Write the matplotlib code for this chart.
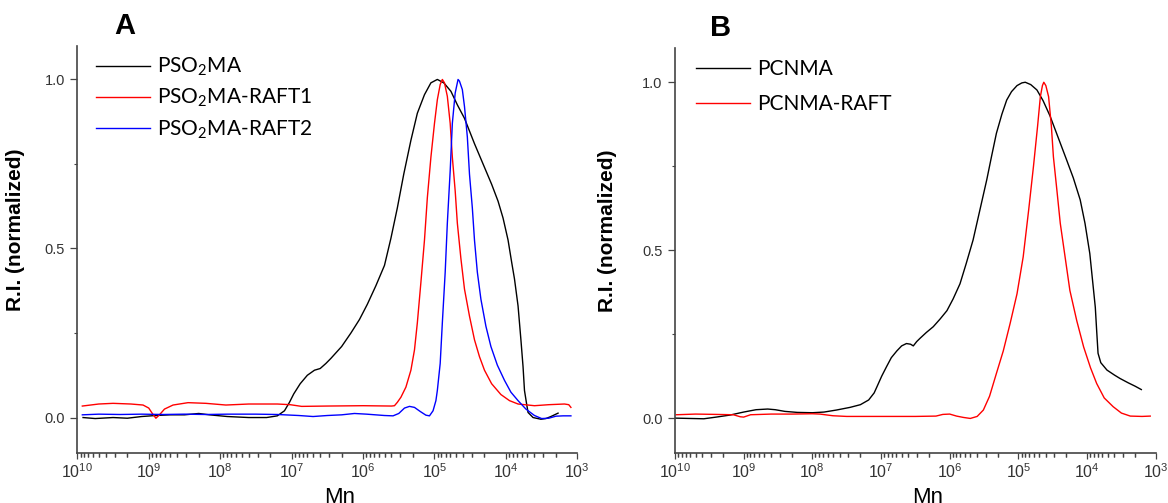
import numpy as np
import matplotlib
matplotlib.use("Agg")
import matplotlib.pyplot as plt
from matplotlib.ticker import FixedLocator, LogLocator, NullFormatter

plt.rcParams['font.family'] = ['Liberation Sans', 'DejaVu Sans']
plt.rcParams['mathtext.fontset'] = 'custom'
plt.rcParams['mathtext.rm'] = 'Lato'
plt.rcParams['mathtext.it'] = 'Lato:italic'

# --- panel A: log10(Mn) and normalized RI ---
a_black_logmn = [9.92, 9.75, 9.5, 9.3, 9.1, 8.9, 8.7, 8.5, 8.3, 8.15, 7.9, 7.6, 7.35, 7.2,
                 7.1, 7.03, 6.97, 6.88, 6.78, 6.68, 6.6, 6.52, 6.45, 6.3, 6.17, 6.05, 5.94,
                 5.82, 5.7, 5.61, 5.52, 5.43, 5.33, 5.24, 5.14, 5.05, 4.96, 4.87, 4.77, 4.68,
                 4.58, 4.44, 4.30, 4.2, 4.11, 4.04, 3.97, 3.92, 3.88, 3.83, 3.79, 3.76, 3.74,
                 3.71, 3.69, 3.62, 3.51, 3.44, 3.37, 3.3, 3.27]
a_black_ri = [0.0, -0.003, 0.0, -0.002, 0.003, 0.006, 0.008, 0.008, 0.012, 0.008, 0.003, 0.0,
              0.0, 0.005, 0.02, 0.045, 0.07, 0.1, 0.125, 0.14, 0.145, 0.16, 0.175, 0.21, 0.25,
              0.29, 0.335, 0.39, 0.45, 0.53, 0.62, 0.72, 0.82, 0.9, 0.955, 0.99, 1.0, 0.99,
              0.965, 0.925, 0.885, 0.81, 0.74, 0.69, 0.64, 0.59, 0.525, 0.46, 0.41, 0.33,
              0.23, 0.15, 0.08, 0.04, 0.015, 0.0, -0.005, -0.003, 0.003, 0.01, 0.013]

a_red_logmn = [9.93, 9.7, 9.5, 9.25, 9.08, 9.0, 8.95, 8.9, 8.85, 8.78, 8.66, 8.45, 8.2, 7.92,
               7.6, 7.2, 7.02, 6.86, 6.5, 6.0, 5.6, 5.56, 5.52, 5.47, 5.4, 5.33, 5.28, 5.24,
               5.19, 5.14, 5.1, 5.05, 5.0, 4.96, 4.92, 4.89, 4.86, 4.82, 4.78, 4.75, 4.71,
               4.68, 4.63, 4.58, 4.51, 4.44, 4.37, 4.3, 4.2, 4.07, 3.95, 3.83, 3.6, 3.4, 3.18,
               3.12, 3.09]
a_red_ri = [0.034, 0.04, 0.042, 0.04, 0.037, 0.028, 0.012, -0.002, 0.008, 0.025, 0.037, 0.044,
            0.042, 0.037, 0.04, 0.04, 0.038, 0.033, 0.034, 0.035, 0.034, 0.035, 0.045, 0.06,
            0.09, 0.14, 0.2, 0.28, 0.4, 0.525, 0.65, 0.77, 0.87, 0.94, 0.985, 1.0, 0.99, 0.95,
            0.87, 0.77, 0.67, 0.575, 0.47, 0.38, 0.3, 0.23, 0.18, 0.14, 0.1, 0.068, 0.05,
            0.04, 0.035, 0.038, 0.04, 0.038, 0.03]

a_blue_logmn = [9.93, 9.7, 9.4, 9.1, 8.8, 8.5, 8.2, 7.9, 7.5, 7.2, 6.9, 6.7, 6.5, 6.3, 6.12,
                5.95, 5.7, 5.58, 5.5, 5.42, 5.35, 5.28, 5.2, 5.12, 5.07, 5.02, 4.98, 4.96,
                4.92, 4.89, 4.85, 4.82, 4.78, 4.75, 4.71, 4.67, 4.65, 4.61, 4.58, 4.54, 4.51,
                4.47, 4.44, 4.4, 4.35, 4.28, 4.21, 4.12, 4.02, 3.93, 3.83, 3.72, 3.6, 3.5,
                3.4, 3.3, 3.2, 3.09]
a_blue_ri = [0.008, 0.01, 0.009, 0.01, 0.009, 0.01, 0.009, 0.01, 0.01, 0.009, 0.006, 0.003,
             0.006, 0.008, 0.012, 0.01, 0.006, 0.005, 0.012, 0.028, 0.033, 0.03, 0.018, 0.007,
             0.005, 0.02, 0.05, 0.08, 0.16, 0.28, 0.43, 0.575, 0.73, 0.87, 0.96, 1.0, 0.995,
             0.97, 0.92, 0.83, 0.72, 0.62, 0.525, 0.43, 0.35, 0.27, 0.21, 0.155, 0.11, 0.075,
             0.05, 0.025, 0.006, -0.003, -0.002, 0.004, 0.005, 0.005]

# --- panel B ---
b_black_logmn = [10.0, 9.8, 9.58, 9.4, 9.2, 9.0, 8.82, 8.65, 8.54, 8.4, 8.22, 8.0, 7.83, 7.65,
                 7.45, 7.3, 7.18, 7.1, 7.06, 6.99, 6.92, 6.85, 6.77, 6.7, 6.63, 6.57, 6.53,
                 6.48, 6.43, 6.34, 6.24, 6.14, 6.04, 5.95, 5.85, 5.76, 5.66, 5.56, 5.46, 5.39,
                 5.32, 5.24, 5.17, 5.1, 5.02, 4.95, 4.9, 4.82, 4.73, 4.64, 4.54, 4.42, 4.3,
                 4.2, 4.1, 4.03, 3.96, 3.92, 3.88, 3.86, 3.84, 3.8, 3.71, 3.6, 3.52, 3.4, 3.3,
                 3.21]
b_black_ri = [0.0, -0.001, -0.002, 0.003, 0.009, 0.018, 0.025, 0.027, 0.025, 0.02, 0.017,
              0.016, 0.018, 0.024, 0.032, 0.04, 0.054, 0.075, 0.093, 0.125, 0.153, 0.18, 0.2,
              0.215, 0.222, 0.22, 0.215, 0.228, 0.238, 0.255, 0.272, 0.295, 0.32, 0.355, 0.40,
              0.46, 0.53, 0.62, 0.71, 0.78, 0.848, 0.905, 0.947, 0.972, 0.99, 0.998, 1.0,
              0.993, 0.977, 0.945, 0.90, 0.835, 0.77, 0.715, 0.65, 0.58, 0.49, 0.41, 0.33,
              0.26, 0.193, 0.165, 0.143, 0.128, 0.118, 0.105, 0.095, 0.085]

b_red_logmn = [9.98, 9.7, 9.4, 9.15, 9.05, 9.0, 8.9, 8.6, 8.3, 8.0, 7.89, 7.7, 7.5, 7.0, 6.5,
               6.2, 6.1, 6.0, 5.9, 5.8, 5.7, 5.6, 5.51, 5.42, 5.32, 5.22, 5.12, 5.02, 4.93,
               4.85, 4.78, 4.72, 4.68, 4.65, 4.63, 4.6, 4.56, 4.52, 4.49, 4.44, 4.39, 4.32,
               4.25, 4.15, 4.05, 3.95, 3.86, 3.75, 3.62, 3.5, 3.37, 3.2, 3.08]
b_red_ri = [0.01, 0.012, 0.011, 0.01, 0.004, 0.003, 0.01, 0.012, 0.012, 0.013, 0.012, 0.007,
            0.005, 0.005, 0.005, 0.006, 0.011, 0.012, 0.006, 0.002, -0.001, 0.005, 0.024,
            0.065, 0.133, 0.2, 0.282, 0.37, 0.48, 0.62, 0.75, 0.87, 0.957, 0.99, 1.0, 0.99,
            0.957, 0.87, 0.778, 0.68, 0.58, 0.48, 0.38, 0.29, 0.212, 0.15, 0.103, 0.06,
            0.034, 0.015, 0.006, 0.005, 0.006]

panels = [
    dict(letter='A', rect=[0.0662, 0.100, 0.4281, 0.8086], ylim=(-0.104, 1.099),
         series=[(a_black_logmn, a_black_ri, 'black', 'PSO$_2$MA'),
                 (a_red_logmn, a_red_ri, '#ff0000', 'PSO$_2$MA-RAFT1'),
                 (a_blue_logmn, a_blue_ri, '#0000ff', 'PSO$_2$MA-RAFT2')],
         ylabel_x=-0.105, letter_x=0.094, leg_x=0.037, leg_y=0.975, leg_sp=0.42),
    dict(letter='B', rect=[0.5779, 0.100, 0.4116, 0.8046], ylim=(-0.103, 1.102),
         series=[(b_black_logmn, b_black_ri, 'black', 'PCNMA'),
                 (b_red_logmn, b_red_ri, '#ff0000', 'PCNMA-RAFT')],
         ylabel_x=-0.12, letter_x=0.094, leg_x=0.043, leg_y=0.972, leg_sp=0.72),
]

# minor tick positions 2..9 x 10^k for the decades on the Mn axis
minor_x = [m * 10.0 ** k for k in range(3, 10) for m in range(2, 10)]

fig = plt.figure(figsize=(11.68, 5.03), dpi=100)
spine_col = '#444444'
tick_col = '#333333'

for p in panels:
    ax = fig.add_axes(p['rect'])
    ax.set_xscale('log')
    for logmn, ri, col, lab in p['series']:
        ax.plot(10 ** np.array(logmn), ri, color=col, lw=1.0, label=lab)
    ax.set_xlim(1e10, 1e3)
    ax.set_ylim(*p['ylim'])
    ax.xaxis.set_major_locator(LogLocator(base=10.0, numticks=100))
    ax.xaxis.set_minor_locator(FixedLocator(minor_x))
    ax.xaxis.set_minor_formatter(NullFormatter())
    ax.yaxis.set_major_locator(FixedLocator([0.0, 0.5, 1.0]))
    ax.yaxis.set_minor_locator(FixedLocator([0.25, 0.75]))
    ax.set_yticklabels(['0.0', '0.5', '1.0'])
    for s in ['top', 'right']:
        ax.spines[s].set_visible(False)
    for s in ['left', 'bottom']:
        ax.spines[s].set_color(spine_col)
        ax.spines[s].set_linewidth(1.2)
    ax.tick_params(axis='x', which='major', direction='out', length=4.5, width=0.9,
                   color=spine_col, labelcolor=tick_col, labelsize=11.5, pad=2.5)
    ax.tick_params(axis='x', which='minor', direction='out', length=3.0, width=0.9,
                   color=spine_col, bottom=True)
    ax.tick_params(axis='y', which='major', direction='out', length=5, width=0.9,
                   color=spine_col, labelcolor=tick_col, labelsize=10.5, pad=4)
    ax.tick_params(axis='y', which='minor', direction='out', length=2.4, width=0.8,
                   color=spine_col, left=True)
    # short minor tick marks under the Mn axis, drawn outside the axes
    tick_h = 4.0 / (p['rect'][3] * 503)
    ax.vlines(minor_x, -tick_h, 0, transform=ax.get_xaxis_transform(),
              colors=spine_col, lw=0.9, clip_on=False)
    ax.set_ylabel('R.I. (normalized)', fontsize=15, fontweight='bold')
    ax.yaxis.set_label_coords(p['ylabel_x'], 0.548)
    ax.set_xlabel('Mn', fontsize=16)
    ax.xaxis.set_label_coords(0.525, -0.085)
    ax.text(p['letter_x'], 1.015, p['letter'], transform=ax.transAxes, fontsize=21,
            fontweight='bold', ha='center', va='bottom')
    ax.legend(loc='upper left', bbox_to_anchor=(p['leg_x'], p['leg_y']), frameon=False,
              prop={'family': 'Lato', 'size': 15}, handlelength=2.6, handletextpad=0.35,
              labelspacing=p['leg_sp'], borderpad=0, borderaxespad=0)

fig.savefig('out.png', dpi=100)
